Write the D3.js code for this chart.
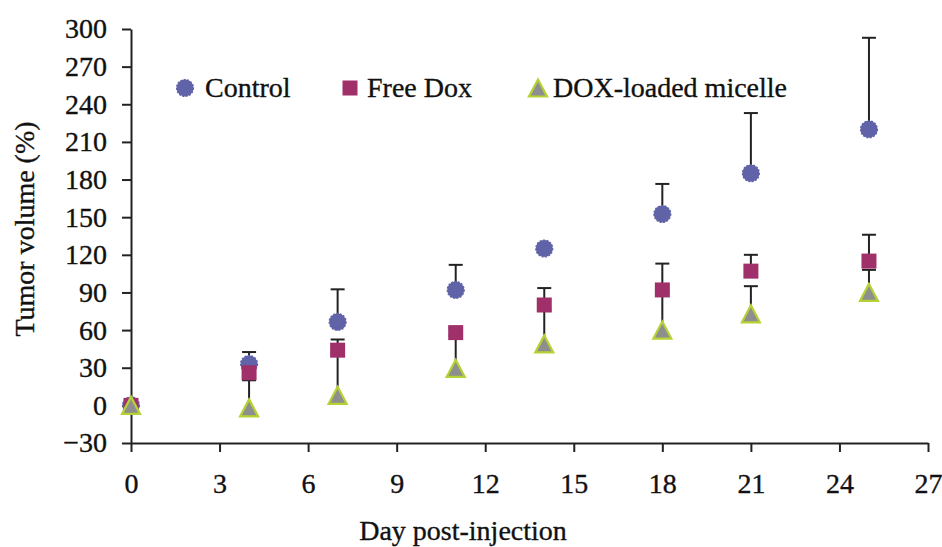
<!DOCTYPE html>
<html>
<head>
<meta charset="utf-8">
<script src="https://cdn.jsdelivr.net/npm/d3@7"></script>
<style>
  html, body { margin: 0; padding: 0; background: #fff; }
  svg text { font-family: "Liberation Serif", "Times New Roman", serif; fill: #111; stroke: #111; stroke-width: 0.35px; }
</style>
</head>
<body>
<svg id="chart" width="942" height="547"></svg>
<script>
// Measurement days
const days = [0, 4, 7, 11, 14, 18, 21, 25];

// Mean tumor volume (%) per group and the upper error bar length
const controlValues   = [0, 33, 66.5, 92, 125, 152.5, 185, 220];
const controlErrors   = [0, 9.5, 26, 20, 3, 24, 48, 73];
const freeDoxValues   = [0, 26, 44, 58, 80, 92, 107, 115];
const freeDoxErrors   = [0, 4, 8.5, 4, 13.5, 21, 13, 21];
const micelleValues   = [0, -2, 8, 29.5, 49, 60, 73, 90];
const micelleErrors   = [0, 22, 34, 26, 27, 30, 22, 18];

const seriesNames = ["Control", "Free Dox", "DOX-loaded micelle"];
const xTicks = d3.range(0, 28, 3);
const yTicks = d3.range(-30, 301, 30);

const series = [
  { name: seriesNames[0], values: controlValues, errors: controlErrors, shape: "circle" },
  { name: seriesNames[1], values: freeDoxValues, errors: freeDoxErrors, shape: "square" },
  { name: seriesNames[2], values: micelleValues, errors: micelleErrors, shape: "triangle" }
];

const svg = d3.select("#chart");
const x = d3.scaleLinear().domain([0, 27]).range([131, 928]);
const y = d3.scaleLinear().domain([-30, 300]).range([443, 29]);

const fontSize = 28;

// Axes
const yAxis = svg.append("g")
  .attr("transform", `translate(${x(0)},0)`)
  .call(d3.axisLeft(y).tickValues(yTicks).tickSize(9).tickSizeOuter(0).tickPadding(15));
const xAxis = svg.append("g")
  .attr("transform", `translate(0,${y(-30)})`)
  .call(d3.axisBottom(x).tickValues(xTicks).tickSize(9).tickSizeOuter(0).tickPadding(21));

[xAxis, yAxis].forEach(g => {
  g.selectAll("path.domain").attr("stroke", "#222").attr("stroke-width", 2);
  g.selectAll(".tick line").attr("stroke", "#222").attr("stroke-width", 2);
  g.selectAll(".tick text")
    .style("font-family", '"Liberation Serif", "Times New Roman", serif')
    .style("font-size", fontSize + "px")
    .attr("fill", "#111");
});

// Axis titles
svg.append("text")
  .attr("x", 463).attr("y", 540)
  .attr("text-anchor", "middle")
  .style("font-size", fontSize + "px")
  .text("Day post-injection");

svg.append("text")
  .attr("transform", "translate(34,229) rotate(-90)")
  .attr("text-anchor", "middle")
  .style("font-size", fontSize + "px")
  .text("Tumor volume (%)");

// Marker drawing
const colors = {
  circle: "#6163a8",
  square: "#a0306a",
  triFill: "#8e8e8e",
  triStroke: "#b4d234"
};

function drawMarker(g, shape, cx, cy) {
  if (shape === "circle") {
    g.append("circle").attr("cx", cx).attr("cy", cy).attr("r", 8.5)
      .attr("fill", colors.circle)
      .attr("stroke", colors.circle).attr("stroke-width", 1.2)
      .attr("stroke-dasharray", "2,1.5");
  } else if (shape === "square") {
    g.append("rect").attr("x", cx - 7.5).attr("y", cy - 7.5)
      .attr("width", 15).attr("height", 15)
      .attr("fill", colors.square);
  } else {
    const h = 17, w = 18;
    g.append("path")
      .attr("d", `M${cx},${cy - h / 2} L${cx + w / 2},${cy + h / 2} L${cx - w / 2},${cy + h / 2} Z`)
      .attr("fill", colors.triFill)
      .attr("stroke", colors.triStroke).attr("stroke-width", 2.2)
      .attr("stroke-linejoin", "miter");
  }
}

// Error bars (upper only), drawn beneath all markers
const errG = svg.append("g");
series.forEach(s => {
  days.forEach((d, i) => {
    if (!s.errors[i]) return;
    const cx = x(d), y0 = y(s.values[i]), y1 = y(s.values[i] + s.errors[i]);
    errG.append("line").attr("x1", cx).attr("x2", cx).attr("y1", y0).attr("y2", y1)
      .attr("stroke", "#222").attr("stroke-width", 2);
    errG.append("line").attr("x1", cx - 7).attr("x2", cx + 7).attr("y1", y1).attr("y2", y1)
      .attr("stroke", "#222").attr("stroke-width", 2);
  });
});

// Markers
const markG = svg.append("g");
series.forEach(s => {
  days.forEach((d, i) => drawMarker(markG, s.shape, x(d), y(s.values[i])));
});

// Legend
const legendItems = [
  { shape: "circle", mx: 185, tx: 205 },
  { shape: "square", mx: 350, tx: 367 },
  { shape: "triangle", mx: 538, tx: 553 }
];
const legG = svg.append("g");
legendItems.forEach((item, i) => {
  drawMarker(legG, item.shape, item.mx, 88);
  legG.append("text")
    .attr("x", item.tx).attr("y", 97)
    .style("font-size", fontSize + "px")
    .text(seriesNames[i]);
});
</script>
</body>
</html>
